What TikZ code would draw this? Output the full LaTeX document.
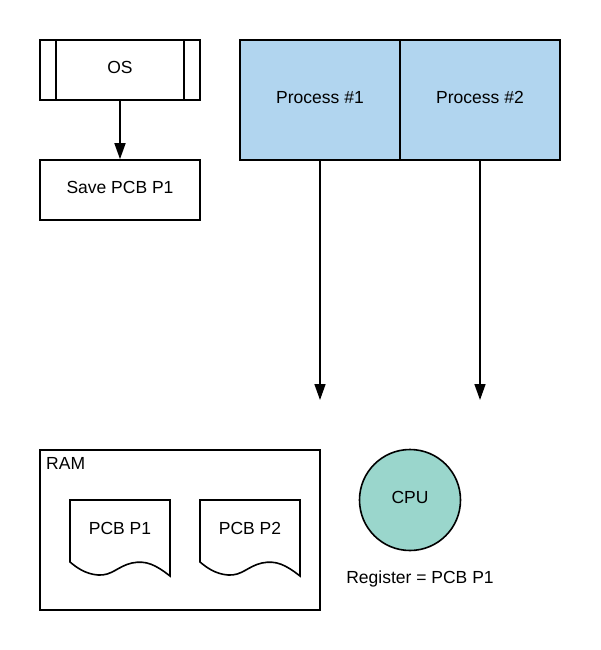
\documentclass[tikz,border=0pt]{standalone}
\usepackage{fontspec}
\setmainfont{Liberation Sans}
\usetikzlibrary{arrows.meta}
\definecolor{procblue}{HTML}{B1D5EF}
\definecolor{cputeal}{HTML}{9AD6CC}
\tikzset{
  txt/.style={font=\fontsize{17.5}{20}\selectfont, text height=12.6pt, text depth=5pt},
  box/.style={draw=black, line width=1.6pt, minimum width=160pt, inner sep=0pt, txt},
  proc/.style={box, fill=procblue, minimum height=120pt},
  lbl/.style={inner sep=0pt, txt},
  arr/.style={line width=1.6pt, -{Triangle[length=16pt,width=11pt]}},
  docshape/.style={draw=black, line width=1.6pt, fill=white, line join=miter}
}
\begin{document}
\begin{tikzpicture}[x=1pt,y=-1pt]
\useasboundingbox (0,0) rectangle (600,650);
% OS box
\node[box, minimum height=60pt] (os) at (120,70) {OS};
\draw[line width=1.6pt] (56,40) -- (56,100) (184,40) -- (184,100);
\node[box, minimum height=60pt] (save) at (120,190) {Save PCB P1};
\draw[arr] (os) -- (save);
% processes
\node[proc] (p1) at (320,100) {Process \#1};
\node[proc] (p2) at (480,100) {Process \#2};
\coordinate (e1) at (320,400);
\coordinate (e2) at (480,400);
\draw[arr] (p1.south) -- (e1);
\draw[arr] (p2.south) -- (e2);
% RAM
\node[draw=black, line width=1.6pt, minimum width=280pt, minimum height=160pt, inner sep=0pt] (ram) at (180,530) {};
\node[inner sep=0pt, font=\fontsize{17.5}{20}\selectfont, anchor=base west] (ramlbl) at (46,469) {RAM};
% documents
\foreach \dx/\nm/\t in {0/d1/PCB P1, 130/d2/PCB P2}{
  \draw[docshape, shift={(\dx,0)}] (70,500) -- (170,500) -- (170,576)
     .. controls (156,565) and (146,560) .. (132,563)
     .. controls (118,566) and (112,576) .. (98,575)
     .. controls (85,574) and (76,567) .. (70,562) -- cycle;
  \node[lbl] (\nm) at (120+\dx,531) {\t};
}
% CPU
\node[circle, draw=black, line width=1.6pt, fill=cputeal, minimum size=101pt, inner sep=0pt, txt] (cpu) at (410,500) {CPU};
\node[lbl] (reg) at (420,580) {Register = PCB P1};
\end{tikzpicture}
\end{document}
